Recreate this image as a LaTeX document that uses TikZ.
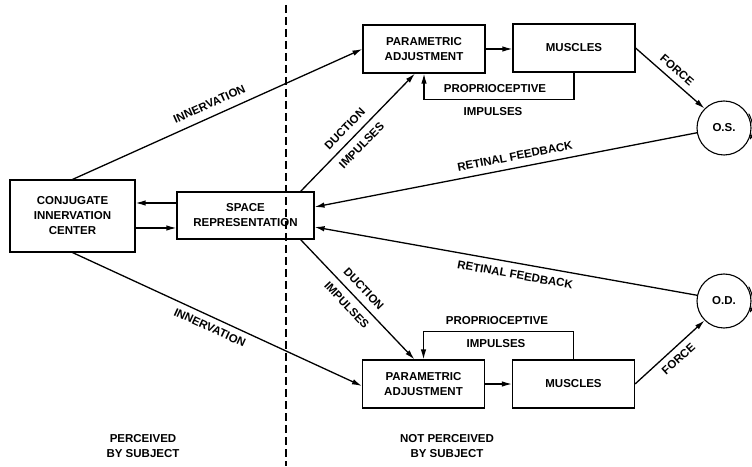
\documentclass[tikz,border=0pt]{standalone}
\usepackage{fontspec}
\setmainfont{Liberation Sans}
\usetikzlibrary{arrows.meta}

\begin{document}
\begin{tikzpicture}[x=1pt, y=1pt,
    every node/.style={font=\fontsize{11.5}{15}\selectfont\bfseries},
    box/.style={draw, line width=1.1pt, minimum width=122pt, minimum height=48pt, align=center, inner sep=2pt},
    eye/.style={circle, draw, line width=1.1pt, minimum size=54pt, inner sep=0pt},
    arr/.style={line width=1.3pt, -{Latex[length=10pt, width=5.5pt]}},
    lbl/.style={sloped, inner sep=2pt}]

    \useasboundingbox (0,0) rectangle (752,466);

    % perceived / not perceived border
    \draw[line width=1.1pt, dash pattern=on 8pt off 4pt] (286,461) -- (286,0);
    \node[align=center] (perc) at (143,20) {PERCEIVED\\BY SUBJECT};
    \node[align=center] (notperc) at (447,20) {NOT PERCEIVED\\BY SUBJECT};

    % boxes
    \node[box, minimum width=125pt, minimum height=72pt] (conj) at (72.5,250) {CONJUGATE\\INNERVATION\\CENTER};
    \node[box, minimum width=137pt, minimum height=47pt] (space) at (245.5,250.5) {SPACE\\REPRESENTATION};
    \node[box] (param1) at (424,417) {PARAMETRIC\\ADJUSTMENT};
    \node[box] (mus1) at (574,418) {MUSCLES};
    \node[box] (param2) at (423.5,82) {PARAMETRIC\\ADJUSTMENT};
    \node[box] (mus2) at (573.5,82) {MUSCLES};

    % eyes
    \node[eye] (os) at (724,338) {O.S.};
    \node[eye] (od) at (724,165) {O.D.};
    \draw[line width=1pt, -{Latex[length=5pt, width=4pt]}] (os.center) ++(30:28.5pt) arc[start angle=30, end angle=-25, radius=28.5pt];
    \draw[line width=1pt, -{Latex[length=5pt, width=4pt]}] (od.center) ++(30:28.5pt) arc[start angle=30, end angle=-25, radius=28.5pt];

    % conj <-> space
    \draw[arr] ([yshift=12.5pt]space.west) -- ([yshift=12.5pt]space.west -| conj.east);
    \draw[arr] ([yshift=-12.5pt]space.west -| conj.east) -- ([yshift=-12.5pt]space.west);

    % innervation
    \draw[arr] (conj.north) -- node[lbl, above=6pt, pos=0.49] {INNERVATION} (param1.west);
    \draw[arr] (conj.south) -- node[lbl, below=4pt, pos=0.49] {INNERVATION} ([yshift=-2pt]param2.west);

    % duction impulses
    \draw[arr] ([xshift=-14pt]space.north east) -- node[lbl, above=5pt, pos=0.46] {DUCTION} node[lbl, below=5pt, pos=0.46] {IMPULSES} ([xshift=-9pt]param1.south);
    \draw[arr] ([xshift=-14pt]space.south east) -- node[lbl, above=5pt, pos=0.48] {DUCTION} node[lbl, below=5pt, pos=0.48] {IMPULSES} ([xshift=-9pt]param2.north);

    % adjustment -> muscles
    \draw[arr] (param1.east) -- (mus1.west |- param1.east);
    \draw[arr] (param2.east) -- (mus2.west |- param2.east);

    % proprioceptive impulses
    \draw[arr] (mus1.south) -- ++(0,-27) -| (param1.south);
    \node (prop1) at (495,377) {PROPRIOCEPTIVE};
    \node (imp1) at (493,354) {IMPULSES};
    \draw[arr] (mus2.north) -- ++(0,28) -| (param2.north);
    \node (prop2) at (497,145) {PROPRIOCEPTIVE};
    \node (imp2) at (496,122) {IMPULSES};

    % force
    \draw[arr] (mus1.east) -- node[lbl, above=4pt, pos=0.5] {FORCE} (os.135);
    \draw[arr] (mus2.east) -- node[lbl, below=4pt, pos=0.52] {FORCE} (od.225);

    % retinal feedback
    \draw[arr] (os.190) -- node[lbl, above=5pt, pos=0.47] {RETINAL FEEDBACK} ([yshift=8.5pt]space.east);
    \draw[arr] (od.168) -- node[lbl, below=5pt, pos=0.47] {RETINAL FEEDBACK} ([yshift=-11.5pt]space.east);

\end{tikzpicture}
\end{document}
